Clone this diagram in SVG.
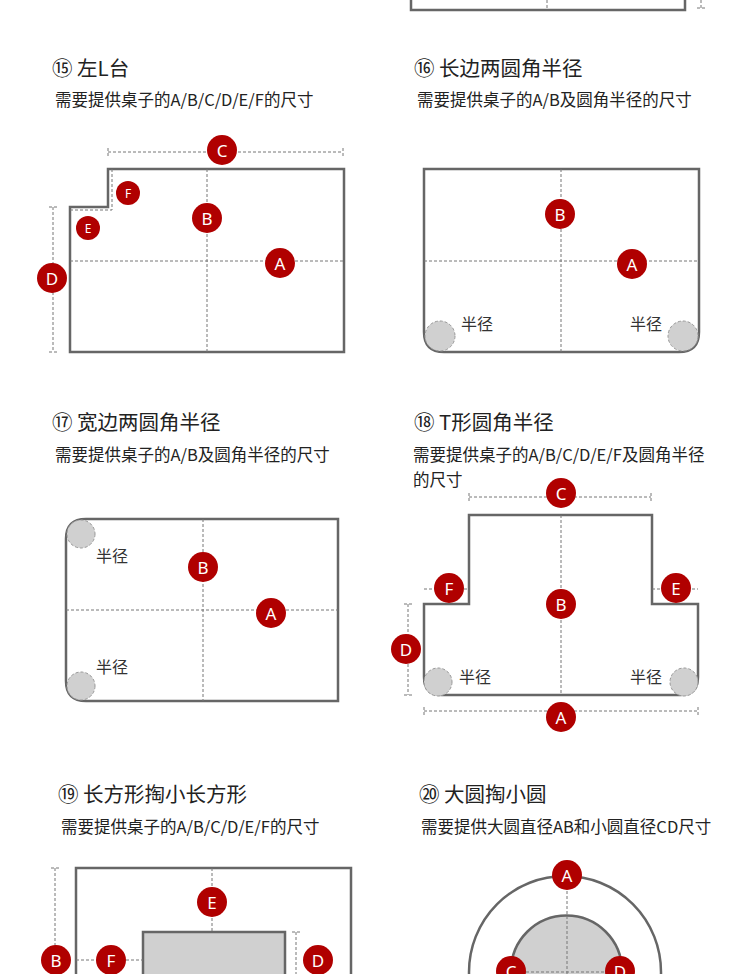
<svg xmlns="http://www.w3.org/2000/svg" width="750" height="974" viewBox="0 0 750 974">
<style>
.t{font-family:"Noto Sans CJK SC","Noto Sans",sans-serif;fill:#222}
.h{font-size:20.5px}.s{font-size:16.5px}
.o{fill:none;stroke:#666;stroke-width:2.5}
.d{fill:none;stroke:#777;stroke-width:1;stroke-dasharray:3,2}
.b{fill:#b00000}
.bt{font-family:"Noto Sans","DejaVu Sans",sans-serif;fill:#fff;font-size:17px;text-anchor:middle;dominant-baseline:central}
.g{fill:#d0d0d0;stroke:#999;stroke-width:1;stroke-dasharray:3,2}
.r{font-family:"Noto Sans CJK SC",sans-serif;font-size:16px;fill:#333}
</style>
<g id="top">
<path class="o" d="M411 0V10H685V0"/><path class="d" d="M547 0V10M701 0V8M697 8H705"/>
</g>
<g id="p15">
<text class="t h" x="52" y="76">⑮ 左L台</text>
<text class="t s" x="55" y="106">需要提供桌子的A/B/C/D/E/F的尺寸</text>
<path class="o" d="M70 352V207H108V169H344V352Z"/>
<path class="d" d="M108 152H343M108 148V156M343 148V156M53 207V352M49 207H57M49 352H57M70 261H344M207 169V352M112 169V210H70"/>
<circle class="b" cx="222" cy="150" r="15"/><text class="bt" x="222" y="150">C</text>
<circle class="b" cx="128" cy="193" r="12"/><text class="bt" x="128" y="193" style="font-size:12px">F</text>
<circle class="b" cx="207" cy="218" r="15"/><text class="bt" x="207" y="218">B</text>
<circle class="b" cx="88" cy="228" r="12"/><text class="bt" x="88" y="228" style="font-size:12px">E</text>
<circle class="b" cx="280" cy="263" r="15"/><text class="bt" x="280" y="263">A</text>
<circle class="b" cx="52" cy="278" r="15"/><text class="bt" x="52" y="278">D</text>
</g>
<g id="p16">
<text class="t h" x="414" y="76">⑯ 长边两圆角半径</text>
<text class="t s" x="417" y="106">需要提供桌子的A/B及圆角半径的尺寸</text>
<path class="o" d="M424 169H699V332Q699 352 679 352H444Q424 352 424 332Z"/>
<path class="d" d="M424 261H699M561 169V352"/>
<circle class="g" cx="440" cy="336" r="15"/><circle class="g" cx="683" cy="336" r="15"/>
<text class="r" x="461" y="330">半径</text><text class="r" x="630" y="330">半径</text>
<circle class="b" cx="560" cy="214" r="15"/><text class="bt" x="560" y="214">B</text>
<circle class="b" cx="632" cy="264" r="15"/><text class="bt" x="632" y="264">A</text>
</g>
<g id="p17">
<text class="t h" x="52" y="430">⑰ 宽边两圆角半径</text>
<text class="t s" x="55" y="461">需要提供桌子的A/B及圆角半径的尺寸</text>
<path class="o" d="M86 519H338V701H86Q66 701 66 681V539Q66 519 86 519Z"/>
<path class="d" d="M66 610H338M203 519V701"/>
<circle class="g" cx="81" cy="534" r="14"/><circle class="g" cx="81" cy="686" r="14"/>
<text class="r" x="96" y="562">半径</text><text class="r" x="96" y="673">半径</text>
<circle class="b" cx="203" cy="567" r="15"/><text class="bt" x="203" y="567">B</text>
<circle class="b" cx="271" cy="613" r="15"/><text class="bt" x="271" y="613">A</text>
</g>
<g id="p18">
<text class="t h" x="414" y="430">⑱ T形圆角半径</text>
<text class="t s" x="413" y="461">需要提供桌子的A/B/C/D/E/F及圆角半径</text>
<text class="t s" x="413" y="486">的尺寸</text>
<path class="o" d="M469 515H652V604H698V677Q698 695 680 695H442Q424 695 424 677V604H469Z"/>
<path class="d" d="M469 497H651M469 493V501M651 493V501M424 589H469M652 589H698M561 515V695M408 604V695M404 604H412M404 695H412M424 711H698M424 707V715M698 707V715"/>
<circle class="g" cx="438" cy="682" r="14"/><circle class="g" cx="684" cy="682" r="14"/>
<text class="r" x="459" y="683">半径</text><text class="r" x="630" y="683">半径</text>
<circle class="b" cx="561" cy="493" r="15"/><text class="bt" x="561" y="493">C</text>
<circle class="b" cx="449" cy="588" r="15"/><text class="bt" x="449" y="588">F</text>
<circle class="b" cx="676" cy="588" r="15"/><text class="bt" x="676" y="588">E</text>
<circle class="b" cx="561" cy="604" r="15"/><text class="bt" x="561" y="604">B</text>
<circle class="b" cx="406" cy="649" r="15"/><text class="bt" x="406" y="649">D</text>
<circle class="b" cx="561" cy="717" r="15"/><text class="bt" x="561" y="717">A</text>
</g>
<g id="p19">
<text class="t h" x="58" y="802">⑲ 长方形掏小长方形</text>
<text class="t s" x="61" y="833">需要提供桌子的A/B/C/D/E/F的尺寸</text>
<path class="o" d="M76 980V868H351V980"/>
<rect x="143" y="932" width="142" height="60" fill="#d0d0d0" stroke="#666" stroke-width="2.5"/>
<path class="d" d="M55 868V980M51 868H59M212 868V932M76 960H143M296 932V980M292 932H300"/>
<circle class="b" cx="212" cy="902" r="15"/><text class="bt" x="212" y="902">E</text>
<circle class="b" cx="56" cy="960" r="15"/><text class="bt" x="56" y="960">B</text>
<circle class="b" cx="111" cy="960" r="15"/><text class="bt" x="111" y="960">F</text>
<circle class="b" cx="318" cy="960" r="15"/><text class="bt" x="318" y="960">D</text>
</g>
<g id="p20">
<text class="t h" x="419" y="802">⑳ 大圆掏小圆</text>
<text class="t s" x="421" y="833">需要提供大圆直径AB和小圆直径CD尺寸</text>
<path class="o" d="M469 980V972A96 96 0 0 1 661 972V980"/>
<path d="M511 980V971A55 55 0 0 1 622 971V980" fill="#d0d0d0" stroke="#666" stroke-width="2.5"/>
<path class="d" d="M567 876V980M511 972H622"/>
<circle class="b" cx="567" cy="875" r="15"/><text class="bt" x="567" y="875">A</text>
<circle class="b" cx="511" cy="971" r="15"/><text class="bt" x="511" y="971">C</text>
<circle class="b" cx="620" cy="971" r="15"/><text class="bt" x="620" y="971">D</text>
</g>
</svg>
